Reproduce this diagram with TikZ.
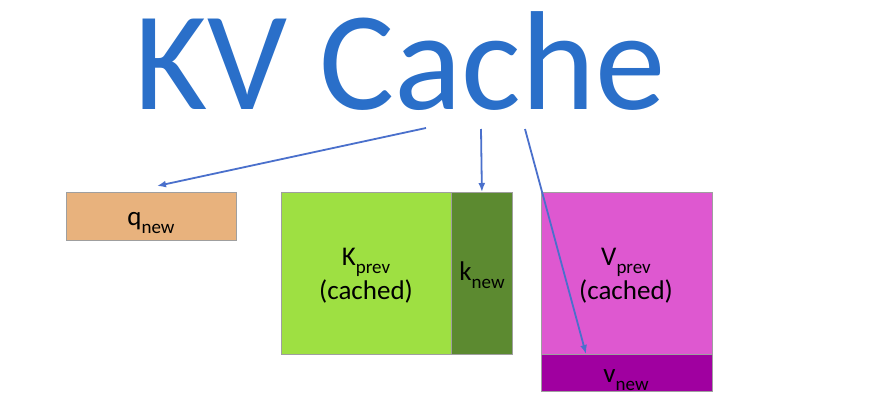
\documentclass[tikz,border=0pt]{standalone}
\usepackage{fontspec}
\setmainfont{Carlito}
\usetikzlibrary{arrows.meta}
\definecolor{titleblue}{HTML}{2A6FC9}
\definecolor{arrowblue}{HTML}{4A70CC}
\definecolor{qtan}{HTML}{E8B27D}
\definecolor{klight}{HTML}{9EE042}
\definecolor{kdark}{HTML}{5C8A30}
\definecolor{vlight}{HTML}{DE58D0}
\definecolor{vdark}{HTML}{A000A0}
\newcommand\sbs[1]{\raisebox{-8pt}{\fontsize{19}{19}\selectfont #1}}
\begin{document}
\begin{tikzpicture}[x=1pt,y=-1pt,
  blk/.style={draw=gray!75,line width=0.8pt,inner sep=0pt,anchor=north west},
  lbl/.style={inner sep=0pt,anchor=base,font=\fontsize{27}{27}\selectfont},
  arr/.style={draw=arrowblue,line width=1.8pt,-{Latex[length=9pt,width=7pt]}}]
\useasboundingbox[fill=white] (0,0) rectangle (879,420);
% title
\node[inner sep=0pt,anchor=base,text=titleblue,font=\fontsize{141}{141}\selectfont] (title) at (400,110) {KV Cache};
% boxes
\node[blk,fill=qtan,minimum width=170pt,minimum height=48pt] (q) at (66,192) {};
\node[blk,fill=klight,minimum width=170pt,minimum height=162pt] (kprev) at (281,192) {};
\node[blk,fill=kdark,minimum width=61pt,minimum height=162pt] (knew) at (451,192) {};
\node[blk,fill=vlight,minimum width=171pt,minimum height=162pt] (vprev) at (541,192) {};
\node[blk,fill=vdark,minimum width=171pt,minimum height=37pt] (vnew) at (541,354) {};
% labels
\node[lbl] (ql) at (151,225) {q\sbs{new}};
\node[lbl] (kl1) at (366,265) {K\sbs{prev}};
\node[lbl] (kl2) at (366,299) {(cached)};
\node[lbl] (knl) at (482,280) {k\sbs{new}};
\node[lbl] (vl1) at (626,265) {V\sbs{prev}};
\node[lbl] (vl2) at (626,299) {(cached)};
\node[lbl] (vnl) at (626,382) {v\sbs{new}};
% arrows
\coordinate (s1) at (426,128);
\coordinate (s2) at (481,129);
\coordinate (s3) at (525,129);
\coordinate (e1) at (157,186);
\coordinate (e3) at (586,354);
\draw[arr] (s1) -- (e1);
\draw[arr] (s2) -- (knew.north);
\draw[arr] (s3) -- (e3);
\end{tikzpicture}
\end{document}
